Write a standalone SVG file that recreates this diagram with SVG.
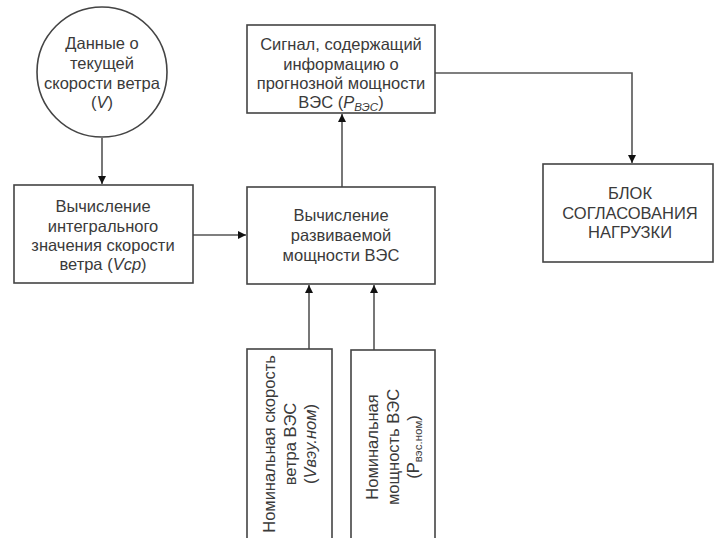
<svg xmlns="http://www.w3.org/2000/svg" width="716" height="538" viewBox="0 0 716 538">
<defs>
<style>
.box{fill:#fff;stroke:#444;stroke-width:1.6}
.t{font-family:"Liberation Sans",Arial,sans-serif;font-size:16.5px;fill:#3a3a3a;text-anchor:middle}
.c{fill:none;stroke:#555;stroke-width:1.6}
.i{font-style:italic}
</style>
<marker id="ah" viewBox="0 0 10 10" refX="10" refY="5" markerWidth="8" markerHeight="8" markerUnits="userSpaceOnUse" orient="auto">
<path d="M0,0 L10,5 L0,10 z" fill="#111"/>
</marker>
</defs>
<rect width="716" height="538" fill="#fff"/>
<g id="connectors">
<path class="c" d="M102,138 V184" marker-end="url(#ah)"/>
<path class="c" d="M193,235 H246" marker-end="url(#ah)"/>
<path class="c" d="M342,187 V114" marker-end="url(#ah)"/>
<path class="c" d="M435,73 H632 V163" marker-end="url(#ah)"/>
<path class="c" d="M309,349 V285" marker-end="url(#ah)"/>
<path class="c" d="M374,350 V285" marker-end="url(#ah)"/>
</g>
<g id="n_data">
<circle class="box" cx="102" cy="72" r="65"/>
<text class="t" x="102" y="49">Данные о</text>
<text class="t" x="102" y="69">текущей</text>
<text class="t" x="102" y="89">скорости ветра</text>
<text class="t" x="102" y="108">(<tspan class="i">V</tspan>)</text>
</g>
<g id="n_integral">
<rect class="box" x="14" y="185" width="179" height="98"/>
<text class="t" x="103" y="212">Вычисление</text>
<text class="t" x="103" y="232">интегрального</text>
<text class="t" x="103" y="251">значения скорости</text>
<text class="t" x="103" y="270">ветра (<tspan class="i">Vср</tspan>)</text>
</g>
<g id="n_power">
<rect class="box" x="247" y="187" width="188" height="97"/>
<text class="t" x="341" y="221">Вычисление</text>
<text class="t" x="341" y="241">развиваемой</text>
<text class="t" x="341" y="261">мощности ВЭС</text>
</g>
<g id="n_signal">
<rect class="box" x="247" y="25" width="188" height="88"/>
<text class="t" x="341" y="50">Сигнал, содержащий</text>
<text class="t" x="341" y="70">информацию о</text>
<text class="t" x="341" y="89">прогнозной мощности</text>
<text class="t" x="341" y="108">ВЭС (<tspan class="i">P</tspan><tspan class="i" font-size="11.5" dy="3">ВЭС</tspan><tspan dy="-3">)</tspan></text>
</g>
<g id="n_block">
<rect class="box" x="543" y="164" width="170" height="98"/>
<text class="t" x="630" y="199">БЛОК</text>
<text class="t" x="630" y="219">СОГЛАСОВАНИЯ</text>
<text class="t" x="630" y="238">НАГРУЗКИ</text>
</g>
<g id="n_nomspeed">
<rect class="box" x="247" y="349" width="85" height="195"/>
<g transform="translate(289,444) rotate(-90)">
<text class="t" x="0" y="-14">Номинальная скорость</text>
<text class="t" x="0" y="7">ветра ВЭС</text>
<text class="t" x="0" y="27">(<tspan class="i">Vвэу.ном</tspan>)</text>
</g>
</g>
<g id="n_nompower">
<rect class="box" x="351" y="350" width="84" height="194"/>
<g transform="translate(393,447) rotate(-90)">
<text class="t" x="0" y="-15">Номинальная</text>
<text class="t" x="0" y="6">мощность ВЭС</text>
<text class="t" x="0" y="26">(P<tspan font-size="11.5" dy="3">вэс.ном</tspan><tspan dy="-3">)</tspan></text>
</g>
</g>
</svg>
